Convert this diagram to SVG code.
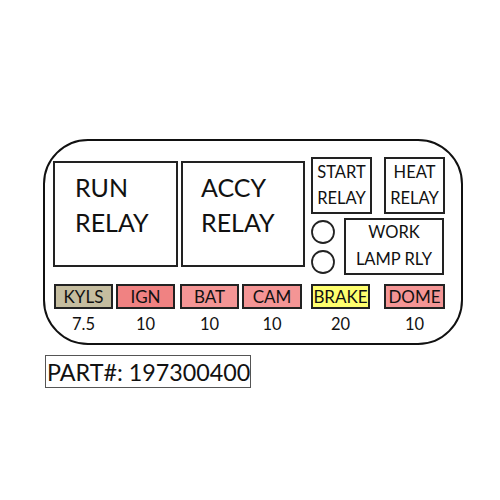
<svg xmlns="http://www.w3.org/2000/svg" width="500" height="500" viewBox="0 0 500 500">
<style>
.box{fill:#fff;stroke:#222;stroke-width:2}
.fuse{stroke:#222;stroke-width:2}
text{font-family:Lato,"Open Sans","Liberation Sans",sans-serif;fill:#111}
.big{font-size:25px}
.mid{font-size:16.5px;text-anchor:middle}
.fl{font-size:17px;text-anchor:middle}
.num{font-size:16.5px;text-anchor:middle}
</style>
<rect width="500" height="500" fill="#fff"/>
<g id="panel"><rect x="44" y="140" width="418" height="204" rx="44" ry="44" fill="#fff" stroke="#111" stroke-width="2"/></g>
<g id="run-relay"><rect class="box" x="54" y="162" width="123" height="104"/><text class="big" x="75" y="197">RUN</text><text class="big" x="75" y="232">RELAY</text></g>
<g id="accy-relay"><rect class="box" x="182" y="162" width="122" height="104"/><text class="big" x="201" y="197">ACCY</text><text class="big" x="201" y="232">RELAY</text></g>
<g id="start-relay"><rect class="box" x="312" y="158" width="59" height="55"/><text class="mid" x="341.5" y="178">START</text><text class="mid" x="341.5" y="204">RELAY</text></g>
<g id="heat-relay"><rect class="box" x="385" y="158" width="59" height="55"/><text class="mid" x="414.5" y="178">HEAT</text><text class="mid" x="414.5" y="204">RELAY</text></g>
<g id="work-lamp-rly"><rect class="box" x="345" y="219" width="98" height="55"/><text class="mid" x="394" y="238">WORK</text><text class="mid" x="394" y="265">LAMP RLY</text></g>
<g id="circle-1"><circle cx="323" cy="232" r="11" fill="#fff" stroke="#222" stroke-width="1.8"/></g>
<g id="circle-2"><circle cx="323" cy="262" r="11" fill="#fff" stroke="#222" stroke-width="1.8"/></g>
<g id="fuse-kyls"><rect class="fuse" x="55" y="285" width="57" height="23" fill="#c5bd9f"/><text class="fl" x="83.5" y="303">KYLS</text><text class="num" x="83.5" y="330">7.5</text></g>
<g id="fuse-ign"><rect class="fuse" x="117" y="285" width="57" height="23" fill="#f08282"/><text class="fl" x="145.5" y="303">IGN</text><text class="num" x="145.5" y="330">10</text></g>
<g id="fuse-bat"><rect class="fuse" x="181" y="285" width="57" height="23" fill="#f49595"/><text class="fl" x="209.5" y="303">BAT</text><text class="num" x="209.5" y="330">10</text></g>
<g id="fuse-cam"><rect class="fuse" x="243" y="285" width="58" height="23" fill="#f49595"/><text class="fl" x="272" y="303">CAM</text><text class="num" x="272" y="330">10</text></g>
<g id="fuse-brake"><rect class="fuse" x="312" y="285" width="57" height="23" fill="#ffff6e"/><text class="fl" x="340.5" y="303">BRAKE</text><text class="num" x="340.5" y="330">20</text></g>
<g id="fuse-dome"><rect class="fuse" x="385" y="285" width="59" height="23" fill="#f49595"/><text class="fl" x="414.5" y="303">DOME</text><text class="num" x="414.5" y="330">10</text></g>
<g id="part-number"><rect x="45.5" y="355.5" width="205" height="32" fill="#fff" stroke="#555" stroke-width="1"/><text x="47" y="381" style="font-size:23.3px">PART#: 197300400</text></g>
<g id="connectors"></g>
</svg>
